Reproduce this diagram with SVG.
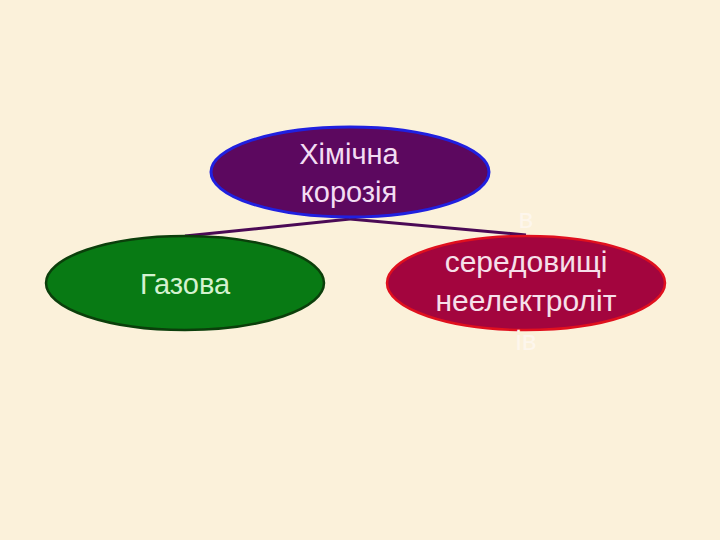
<svg xmlns="http://www.w3.org/2000/svg" width="720" height="540" viewBox="0 0 720 540">
<style>
text{font-family:"Liberation Sans","Open Sans",sans-serif;text-anchor:middle}
.t{font-size:29px;fill:#F3DDF3}
.g{font-size:29px;fill:#D4F2D0}
.r{font-size:30px;fill:#F6E0EA}
.f{font-size:28px;fill:#FDF6EC}
.c{stroke:#4B0A55;stroke-width:3;fill:none}
</style>
<rect width="720" height="540" fill="#FBF1DA"/>
<g id="connectors">
<line class="c" x1="185" y1="236" x2="350" y2="219"/>
<line class="c" x1="350" y1="219" x2="526" y2="235"/>
</g>
<g id="khimichna">
<ellipse cx="350" cy="172" rx="139" ry="45" fill="#5C085F" stroke="#2020E0" stroke-width="3"/>
<text class="t" x="349" y="164">Хімічна</text>
<text class="t" x="349" y="202">корозія</text>
</g>
<g id="gazova">
<ellipse cx="185" cy="283" rx="139" ry="47" fill="#087A14" stroke="#0B3F0B" stroke-width="2.5"/>
<text class="g" x="185" y="294">Газова</text>
</g>
<g id="neelektrolit">
<text class="f" x="526" y="228">в</text>
<ellipse cx="526" cy="283" rx="139" ry="47" fill="#A3053E" stroke="#E0101E" stroke-width="2.5"/>
<text class="r" x="526" y="272">середовищі</text>
<text class="r" x="526" y="311">неелектроліт</text>
<text class="f" x="526" y="350">ів</text>
</g>
</svg>
